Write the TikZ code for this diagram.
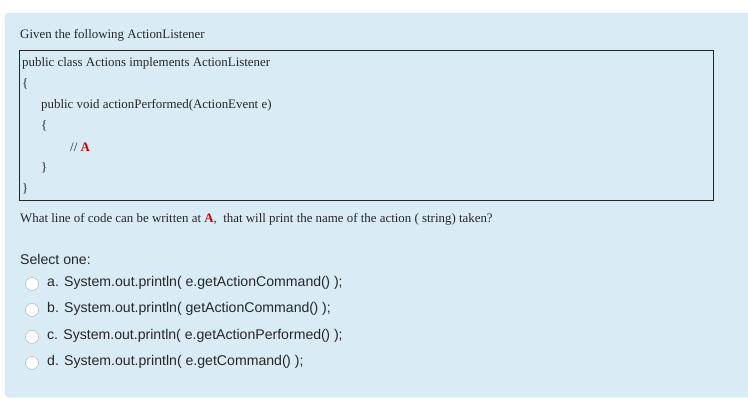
\documentclass[tikz,border=0pt]{standalone}
\usepackage{fontspec}
\setmainfont{Liberation Serif}
\newfontfamily\sansf{Liberation Sans}
\newcommand{\pp}{(\kern-0.5pt)}
\begin{document}
\begin{tikzpicture}[x=1pt,y=-1pt,
  ser/.style={anchor=west,inner sep=0pt,font=\fontsize{12.9}{13}\selectfont,text=black!85},
  san/.style={anchor=west,inner sep=0pt,font=\sansf\fontsize{14.1}{15}\selectfont,text=black!85},
  radio/.style={circle,draw=black!35,fill=white,minimum size=13pt,inner sep=0pt}]
\useasboundingbox (0,0) rectangle (748,400);
\fill[white] (0,0) rectangle (748,400);
\draw[draw={rgb,255:red,190;green,222;blue,236},fill={rgb,255:red,217;green,236;blue,246},rounded corners=4pt] (5,13) rectangle (752,397);
\node[ser] (t0) at (20,35) {Given the following ActionListener};
\draw[black!85,fill={rgb,255:red,217;green,236;blue,246}] (19.5,50.5) rectangle (713.5,200.5);
\node[ser] (c1) at (22,63) {public class Actions implements ActionListener};
\node[ser] (c2) at (22,84) {\{};
\node[ser] (c3) at (41,105) {public void actionPerformed(ActionEvent e)};
\node[ser] (c4) at (41,126) {\{};
\node[ser] (c5) at (70,147) {// \textcolor{red!80!black}{\textbf{A}}};
\node[ser] (c6) at (41,168) {\}};
\node[ser] (c7) at (22,189) {\}};
\node[ser] (q) at (20,219) {What line of code can be written at \textcolor{red!80!black}{\textbf{A},}\ \ that will print the name of the action ( string) taken?};
\node[san] (s) at (20,259) {Select one:};
\foreach \y/\t [count=\i] in {283/a. System.out.println( e.getActionCommand\pp\ );,
  309/b. System.out.println( getActionCommand\pp\ );,
  336/c. System.out.println( e.getActionPerformed\pp\ );,
  362/d. System.out.println( e.getCommand\pp\ );}{
  \node[radio] (r\i) at (32,\y+1) {};
  \node[san] (o\i) at (47,\y) {\t};
}
\end{tikzpicture}
\end{document}
